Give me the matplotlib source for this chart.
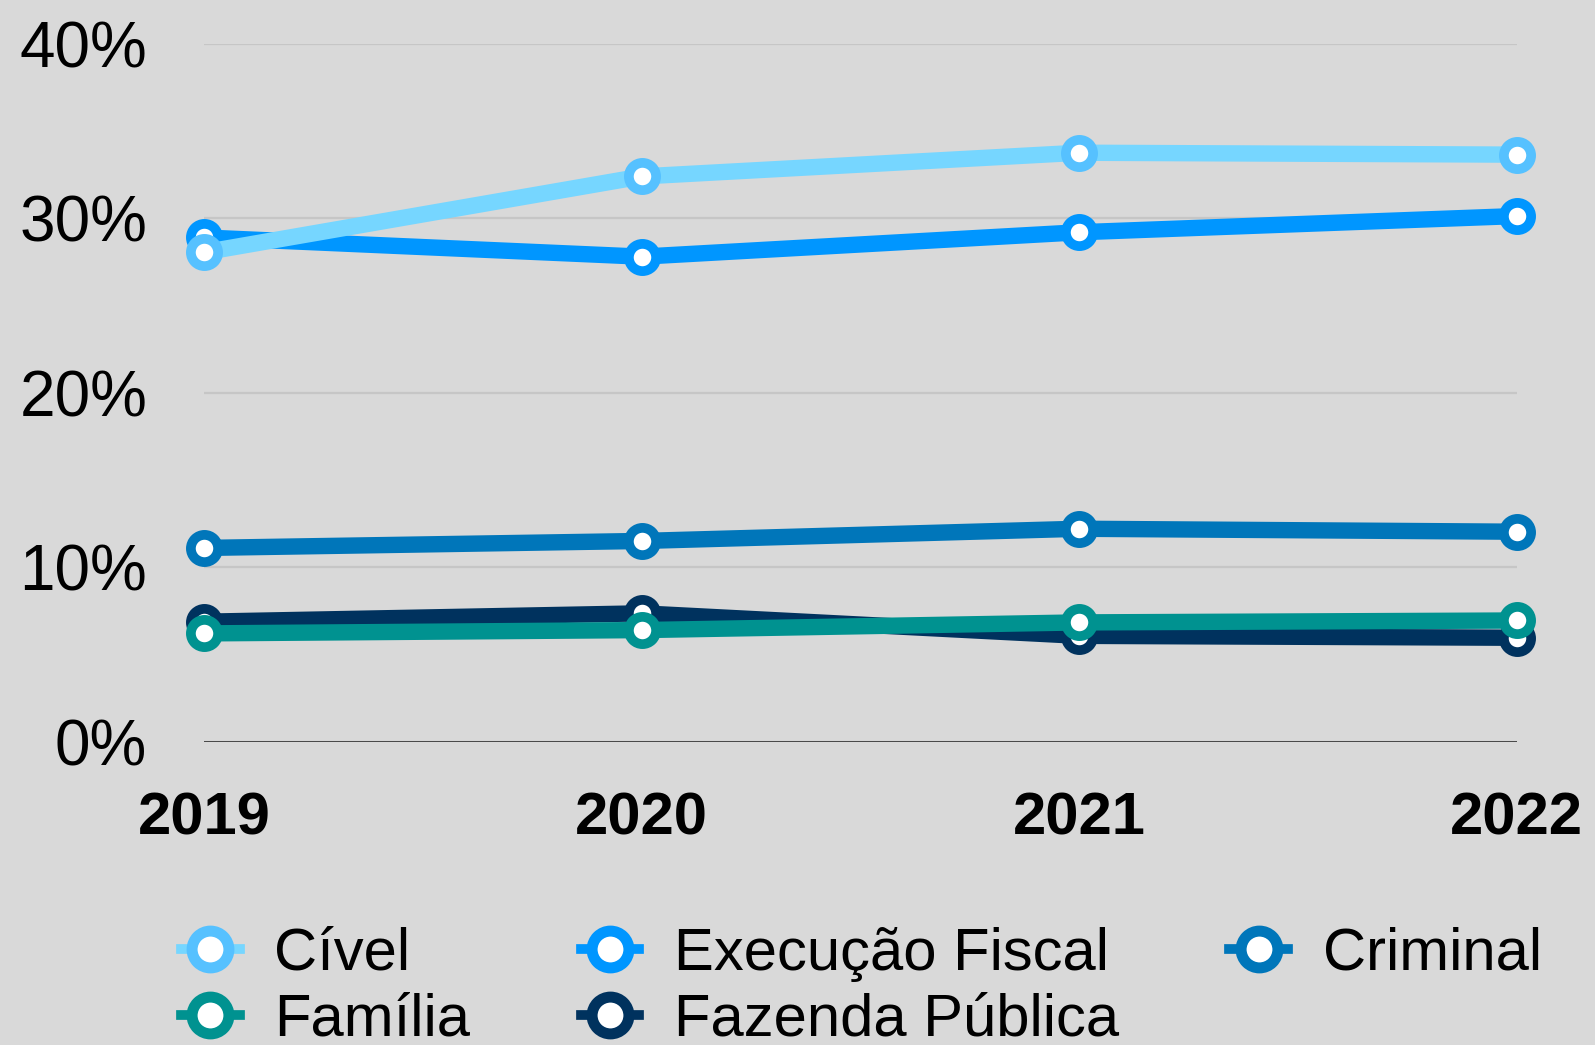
import matplotlib
matplotlib.use("Agg")
import matplotlib.pyplot as plt
from matplotlib.lines import Line2D
from matplotlib.ticker import FuncFormatter

plt.rcParams['font.family'] = ['Liberation Sans', 'DejaVu Sans']

# Data
years = [2019, 2020, 2021, 2022]
civel = [28.05, 32.4, 33.76, 33.65]
execucao_fiscal = [28.9, 27.8, 29.2, 30.13]
criminal = [11.1, 11.5, 12.2, 12.03]
familia = [6.2, 6.39, 6.83, 6.94]
fazenda_publica = [6.87, 7.35, 6.06, 5.95]

labels = ["Cível", "Execução Fiscal", "Criminal", "Família", "Fazenda Pública"]
series = [civel, execucao_fiscal, criminal, familia, fazenda_publica]
line_colors = ["#76d6ff", "#0096ff", "#0076ba", "#009290", "#00325e"]
edge_colors = ["#56c1ff", "#0096ff", "#0076ba", "#009290", "#00325e"]

BG = "#d9d9d9"

fig = plt.figure(figsize=(15.95, 10.45), dpi=100)
fig.patch.set_facecolor(BG)
ax = fig.add_axes([0.128, 0.2904, 0.823, 0.6676])
ax.set_facecolor(BG)

# draw in reverse so Cível sits over Execução Fiscal, Família over Fazenda
for vals, lc, ec, z in reversed(list(zip(series, line_colors, edge_colors, range(5, 0, -1)))):
    ax.plot(years, vals, color=lc, lw=11.8, solid_capstyle='round',
            marker='o', ms=19.6, mew=7.0, mfc='white', mec=ec,
            clip_on=False, zorder=3 + z)

ax.set_xlim(2019, 2022)
ax.set_ylim(0, 40)
ax.set_yticks([0, 10, 20, 30, 40])
ax.yaxis.set_major_formatter(FuncFormatter(lambda v, p: f"{v:.0f}%"))
ax.set_xticks(years)
ax.set_xticklabels([str(y) for y in years], fontweight='bold')

ax.grid(axis='y', color='#c6c6c6', lw=1.6)
ax.set_axisbelow(True)
ax.axhline(0, color='#222222', lw=1.8, zorder=2)
for s in ax.spines.values():
    s.set_visible(False)

ax.tick_params(axis='y', length=0, pad=41, labelsize=46, labelcolor='black')
ax.tick_params(axis='x', length=0, pad=36, labelsize=43, labelcolor='black')

# legend, filled column by column -> reorder so it reads row by row
order = [0, 3, 1, 4, 2]
handles = [Line2D([0], [0], color=line_colors[i], lw=7, marker='o', ms=26.5, mew=7.9,
                  mfc='white', mec=edge_colors[i]) for i in order]
fig.legend(handles, [labels[i] for i in order], loc='upper left',
           bbox_to_anchor=(181 / 1595, 1 - 927 / 1045),
           ncol=3, frameon=False, fontsize=43,
           handlelength=0.98, handletextpad=0.58, columnspacing=1.85,
           labelspacing=0.18, borderpad=0, borderaxespad=0)

fig.savefig("out.png", dpi=100, facecolor=fig.get_facecolor())
